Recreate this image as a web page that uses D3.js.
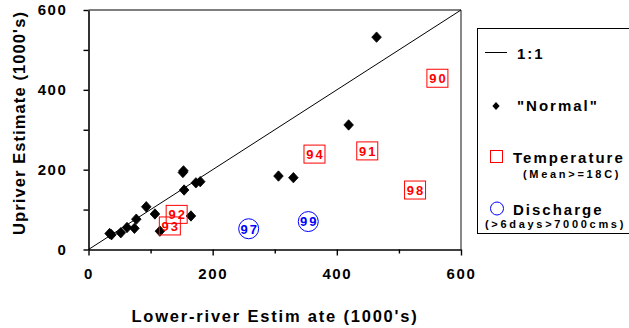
<!DOCTYPE html>
<meta charset="utf-8">
<style>
  body { margin: 0; background: white; }
  text { font-family: "Liberation Sans", Arial, sans-serif; font-weight: bold; }
  .tick text { font-size: 15px; letter-spacing: 1.6px; fill: black; }
  .title { font-size: 16.5px; letter-spacing: 1.1px; }
  .xtitle { letter-spacing: 1.8px; }
  .lg { font-size: 15px; letter-spacing: 2px; }
  .lgsub { font-size: 11px; letter-spacing: 2.7px; }
  .yr { font-size: 13px; letter-spacing: 2px; text-anchor: middle; }
</style>
<body>
<script src="https://cdn.jsdelivr.net/npm/d3@7"></script>
<script>

// "Normal" years (diamonds)
const normalX = [34, 37, 52, 62, 74, 77, 93, 107, 115, 152, 153, 154, 165, 173, 180, 306, 330, 419, 464]
const normalY = [40, 37, 42, 55, 53, 76, 107, 89, 46, 193, 197, 149, 84, 167, 170, 184, 180, 312, 532]

// temperature years (squares)
const tempYears = ["90", "91", "92", "93", "94", "98"]
const tempX = [562, 449, 142, 131, 364, 526]
const tempY = [429, 247, 88, 59, 239, 149]

// discharge years (circles)
const dischYears = ["97", "99"]
const dischX = [258, 354]
const dischY = [52, 70]

const allTicks = [0, 100, 200, 300, 400, 500, 600]

const width = 629, height = 328

const svg = d3.select("body").append("svg")
  .attr("width", width)
  .attr("height", height)

const x = d3.scaleLinear().domain([0, 600]).range([88.5, 461])
const y = d3.scaleLinear().domain([0, 600]).range([249.5, 10])

// frame (top & right in grey)
svg.append("line")
  .attr("x1", x(0)).attr("x2", x(600))
  .attr("y1", y(600)).attr("y2", y(600))
  .attr("stroke", "#555").attr("stroke-width", 1.3)
svg.append("line")
  .attr("x1", x(600)).attr("x2", x(600))
  .attr("y1", y(600)).attr("y2", y(0))
  .attr("stroke", "#888").attr("stroke-width", 2)

// axes
const fmt = d => d % 200 === 0 ? d : ""

const xAxis = svg.append("g")
  .attr("transform", `translate(0, ${y(0)})`)
  .call(d3.axisBottom(x).tickValues(allTicks).tickFormat(fmt).tickSizeOuter(0).tickSizeInner(5).tickPadding(14))
xAxis.select(".domain").attr("stroke", "black").attr("stroke-width", 1.6)
xAxis.selectAll(".tick line").attr("stroke-width", 1.4)
  .attr("y2", d => d % 200 === 0 ? 6 : 4)
xAxis.selectAll(".tick text").attr("font-family", null).attr("font-size", null)

const yAxis = svg.append("g")
  .attr("transform", `translate(${x(0)}, 0)`)
  .call(d3.axisLeft(y).tickValues(allTicks).tickFormat(fmt).tickSizeOuter(0).tickSizeInner(5).tickPadding(16))
yAxis.select(".domain").attr("stroke", "black").attr("stroke-width", 1.6)
yAxis.selectAll(".tick line").attr("stroke-width", 1.4)
yAxis.selectAll(".tick text").attr("font-family", null).attr("font-size", null)

// 1:1 line
svg.append("line")
  .attr("x1", x(0)).attr("y1", y(0))
  .attr("x2", x(600)).attr("y2", y(600))
  .attr("stroke", "black").attr("stroke-width", 1)

// titles
svg.append("text")
  .attr("class", "title xtitle")
  .attr("x", 275).attr("y", 322)
  .attr("text-anchor", "middle")
  .text("Lower-river Estim ate (1000's)")

svg.append("text")
  .attr("class", "title")
  .attr("transform", "translate(25, 123) rotate(-90)")
  .attr("text-anchor", "middle")
  .text("Upriver Estimate (1000's)")

const diamond = "M0,-5.2L4.8,0L0,5.2L-4.8,0Z"

// normal points
svg.selectAll(".normal")
  .data(normalX.map((d, i) => [d, normalY[i]]))
  .enter().append("path")
    .attr("class", "normal")
    .attr("d", diamond)
    .attr("transform", d => `translate(${x(d[0])}, ${y(d[1])})`)
    .attr("fill", "black")
    .attr("stroke", "black")
    .attr("stroke-width", 0.8)
    .attr("stroke-linejoin", "round")

// temperature squares
const temp = svg.selectAll(".temp")
  .data(tempYears.map((d, i) => ({yr: d, x: tempX[i], y: tempY[i]})))
  .enter().append("g")
    .attr("class", "temp")
    .attr("transform", d => `translate(${x(d.x)}, ${y(d.y)})`)
temp.append("rect")
  .attr("x", -10.5).attr("y", -9)
  .attr("width", 21).attr("height", 18)
  .attr("fill", "none")
  .attr("stroke", "red")
  .attr("stroke-width", 1)
temp.append("text")
  .attr("class", "yr")
  .attr("x", 1).attr("y", 4.8)
  .attr("fill", "red")
  .text(d => d.yr)

// discharge circles
const disch = svg.selectAll(".disch")
  .data(dischYears.map((d, i) => ({yr: d, x: dischX[i], y: dischY[i]})))
  .enter().append("g")
    .attr("class", "disch")
    .attr("transform", d => `translate(${x(d.x)}, ${y(d.y)})`)
disch.append("circle")
  .attr("r", 10)
  .attr("fill", "none")
  .attr("stroke", "blue")
  .attr("stroke-width", 1)
disch.append("text")
  .attr("class", "yr")
  .attr("x", 1).attr("y", 4.8)
  .attr("fill", "blue")
  .text(d => d.yr)

// legend
const lg = svg.append("g")
lg.append("rect")
  .attr("x", 477.5).attr("y", 28.5)
  .attr("width", 170).attr("height", 205)
  .attr("fill", "none")
  .attr("stroke", "black")
  .attr("stroke-width", 1)

lg.append("line")
  .attr("x1", 485).attr("x2", 507)
  .attr("y1", 52.5).attr("y2", 52.5)
  .attr("stroke", "black").attr("stroke-width", 1)
lg.append("text").attr("class", "lg").attr("x", 517).attr("y", 59).text("1:1")

lg.append("path")
  .attr("d", "M0,-4L3.6,0L0,4L-3.6,0Z")
  .attr("transform", "translate(496, 106)")
  .attr("fill", "black")
lg.append("text").attr("class", "lg").attr("x", 517).attr("y", 111).text('"Normal"')

lg.append("rect")
  .attr("x", 490.5).attr("y", 150.5)
  .attr("width", 12).attr("height", 12)
  .attr("fill", "none").attr("stroke", "red").attr("stroke-width", 1)
lg.append("text").attr("class", "lg").attr("x", 513).attr("y", 163).text("Temperature")
lg.append("text").attr("class", "lgsub").attr("x", 523).attr("y", 178).text("(Mean>=18C)")

lg.append("circle")
  .attr("cx", 497).attr("cy", 208.5).attr("r", 6.5)
  .attr("fill", "none").attr("stroke", "blue").attr("stroke-width", 1)
lg.append("text").attr("class", "lg").attr("x", 513).attr("y", 214.5).text("Discharge")
lg.append("text").attr("class", "lgsub").attr("x", 485).attr("y", 228).text("(>6days>7000cms)")

</script>
</body>
